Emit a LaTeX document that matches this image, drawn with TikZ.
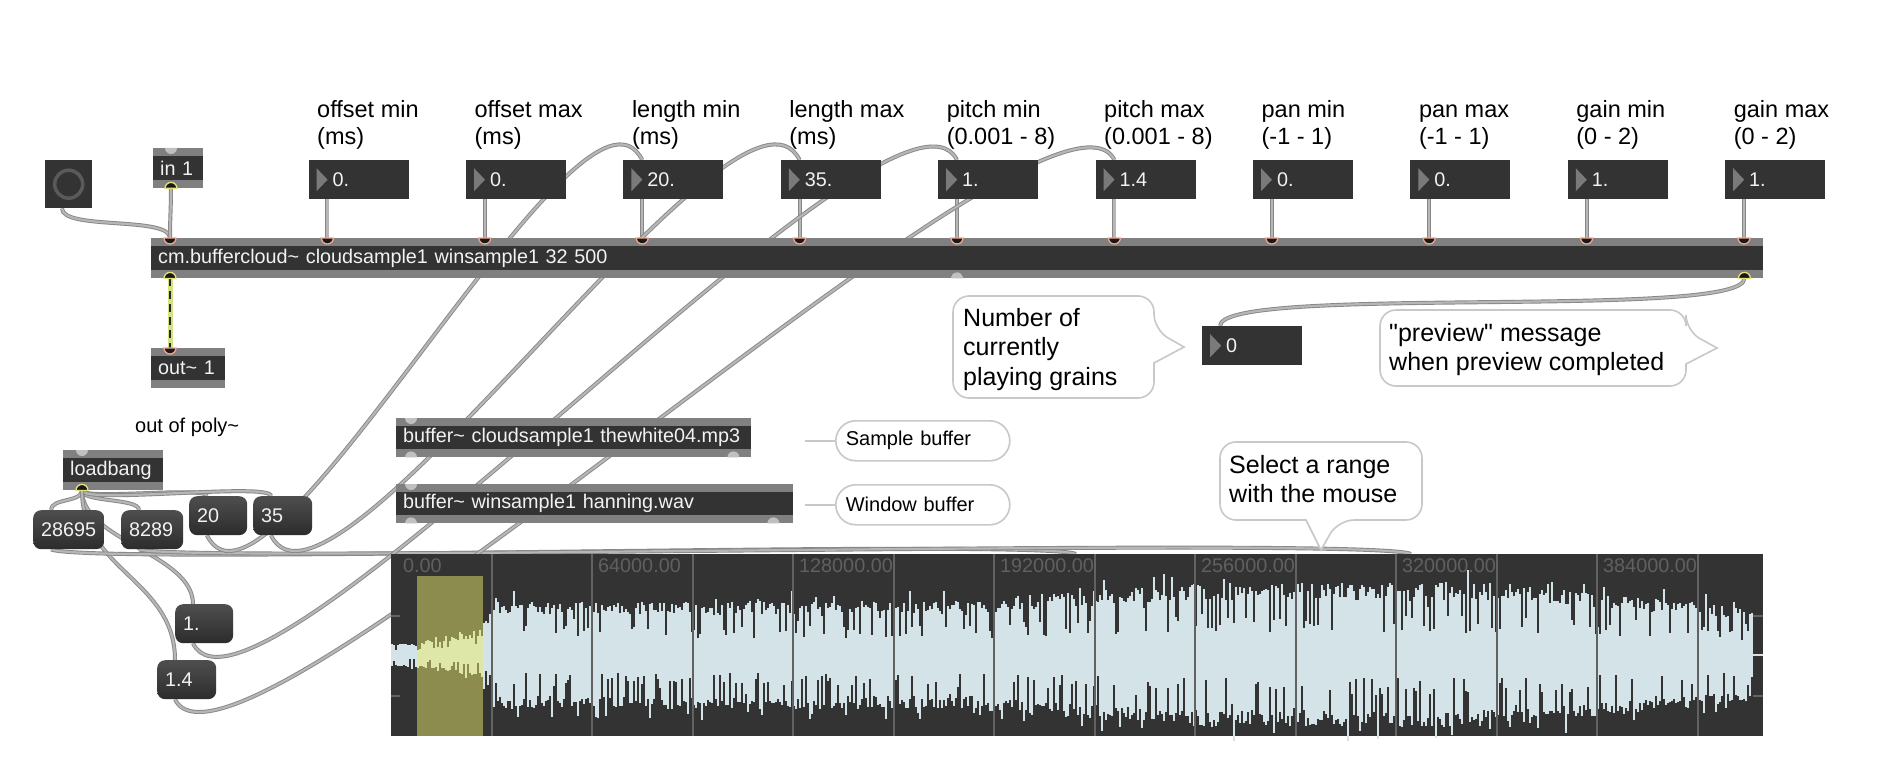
\documentclass[tikz,border=0pt]{standalone}
\usepackage{fontspec}
\setmainfont{Liberation Sans}
\usepackage{tikz}

\definecolor{boxbody}{RGB}{51,51,51}
\definecolor{objstrip}{RGB}{128,128,128}
\definecolor{boxtext}{RGB}{242,242,242}
\definecolor{numtri}{RGB}{122,122,122}
\definecolor{msgtop}{RGB}{78,78,78}
\definecolor{msgbot}{RGB}{44,44,44}
\definecolor{cablerim}{RGB}{135,135,135}
\definecolor{cablefill}{RGB}{182,182,182}
\definecolor{inring}{RGB}{242,165,145}
\definecolor{outring}{RGB}{228,226,120}
\definecolor{dotgray}{RGB}{192,192,192}
\definecolor{sigyellow}{RGB}{210,228,128}
\definecolor{bubblerim}{RGB}{200,200,200}
\definecolor{togring}{RGB}{90,90,90}
\definecolor{wavebg}{RGB}{51,51,51}
\definecolor{wavefill}{RGB}{211,227,232}
\definecolor{selfill}{RGB}{140,140,78}
\definecolor{selwave}{RGB}{222,230,168}
\definecolor{gridline}{RGB}{98,98,98}
\definecolor{gridtxt}{RGB}{96,96,96}

\newcommand{\boxfont}{\fontsize{19.8pt}{22pt}\selectfont}
\newcommand{\lblfont}{\fontsize{23.5pt}{27pt}\selectfont}
\newcommand{\bubfont}{\fontsize{25pt}{29.5pt}\selectfont}
\newcommand{\smlfont}{\fontsize{20pt}{23pt}\selectfont}
\newcommand{\tildech}{\textasciitilde}

\pgfdeclarelayer{bg}
\pgfdeclarelayer{wires}
\pgfsetlayers{bg,wires,main}

\tikzset{
	maxobj/.style={anchor=north west, inner sep=0pt, minimum width=#1, text width=#1,
		minimum height=40pt, align=left, fill=objstrip, text=boxtext, font=\boxfont,
		execute at begin node={\hspace*{7pt}},
		path picture={\fill[boxbody] ([yshift=-8pt]path picture bounding box.north west)
			rectangle ([yshift=8pt]path picture bounding box.south east);}},
	numbox/.style={anchor=north west, inner sep=0pt, minimum width=100pt, text width=100pt,
		minimum height=39pt, align=left, fill=boxbody, text=boxtext, font=\boxfont,
		execute at begin node={\hspace*{24pt}},
		path picture={\fill[numtri] ([xshift=8pt,yshift=-8pt]path picture bounding box.north west)
			-- ++(0pt,-23pt) -- ++(11pt,11.5pt) -- cycle;}},
	msgbox/.style={anchor=north west, inner sep=0pt, minimum width=#1, text width=#1,
		minimum height=39pt, align=left, rounded corners=8pt, top color=msgtop,
		bottom color=msgbot, text=boxtext, font=\boxfont,
		execute at begin node={\hspace*{8pt}}},
	toggle/.style={anchor=north west, inner sep=0pt, minimum width=47pt,
		minimum height=48pt, fill=boxbody},
	pill/.style={anchor=north west, inner sep=0pt, minimum width=174pt, text width=174pt,
		minimum height=40pt, align=left, rounded corners=20pt, draw=bubblerim,
		line width=1.6pt, fill=white, font=\smlfont,
		execute at begin node={\hspace*{10pt}}},
	bubble/.style={draw=bubblerim, line width=1.6pt, fill=white, rounded corners=16pt},
	bubtxt/.style={anchor=base west, align=left, inner sep=0pt, font=\bubfont},
	toplbl/.style={anchor=base west, align=left, inner sep=0pt, font=\lblfont},
	smltxt/.style={anchor=base west, inner sep=0pt, font=\smlfont},
	cable/.style={draw=cablerim, double=cablefill, double distance=2.2pt, line width=0.9pt},
	sigwire/.style={draw=sigyellow, line width=5pt},
	sigdash/.style={draw=black!85, line width=2.4pt, dash pattern=on 8pt off 5pt},
	inl/.style={fill=black!90, draw=inring, line width=1.3pt},
	outl/.style={fill=black!90, draw=outring, line width=1.3pt},
	freedot/.style={fill=dotgray},
	wavebox/.style={anchor=north west, inner sep=0pt, minimum width=1372pt,
		minimum height=182pt, fill=wavebg},
	wavelbl/.style={anchor=base west, inner sep=0pt, font=\boxfont, text=gridtxt},
}

\begin{document}
\begin{tikzpicture}[x=1pt, y=-1pt]
	\useasboundingbox (0,0) rectangle (1894,770);
	\begin{pgfonlayer}{bg}
		\fill[white] (0,0) rectangle (1894,770);
	\end{pgfonlayer}

	% top row: comments and number boxes
	\foreach \t [count=\i from 0] in {{offset min\\(ms)},{offset max\\(ms)},{length min\\(ms)},{length max\\(ms)},{pitch min\\(0.001 - 8)},{pitch max\\(0.001 - 8)},{pan min\\(-1 - 1)},{pan max\\(-1 - 1)},{gain min\\(0 - 2)},{gain max\\(0 - 2)}}
		\node[toplbl] (lbl\i) at ({317+157.4*\i},145) {\t};
	\foreach \v [count=\i from 0] in {0.,0.,20.,35.,1.,1.4,0.,0.,1.,1.}
		\node[numbox] (nb\i) at ({308.4+157.4*\i},160) {\v};

	\node[toggle] (tog) at (45,160) {};
	\draw[togring, line width=3.5pt] (tog.center) circle (14pt);
	\node[maxobj=50pt] (inone) at (153,148) {in 1};
	\node[maxobj=1612pt] (cloud) at (151,238) {cm.buffercloud\tildech{} cloudsample1 winsample1 32 500};
	\node[maxobj=74pt] (outsig) at (151,348) {out\tildech{} 1};
	\node[smltxt] (polylbl) at (135,432) {out of poly\tildech};

	% loadbang and messages
	\node[maxobj=100pt] (lb) at (63,450) {loadbang};
	\node[msgbox=71pt] (mstart) at (33,510) {28695};
	\node[msgbox=62pt] (mend) at (121,510) {8289};
	\node[msgbox=58pt] (mlenlo) at (189,496) {20};
	\node[msgbox=59pt] (mlenhi) at (253,496) {35};
	\node[msgbox=58pt] (mpitlo) at (175,604) {1.};
	\node[msgbox=59pt] (mpithi) at (157,660) {1.4};

	% buffers
	\node[maxobj=355pt, minimum height=39pt] (bufsmp) at (396,418) {buffer\tildech{} cloudsample1 thewhite04.mp3};
	\node[maxobj=397pt, minimum height=39pt] (bufwin) at (396,484) {buffer\tildech{} winsample1 hanning.wav};
	\node[pill] (smpnote) at (835,420) {Sample buffer};
	\node[pill] (winnote) at (835,484) {Window buffer};
	\draw[bubblerim, line width=1.6pt] ([xshift=-30pt]smpnote.west) -- (smpnote.west);
	\draw[bubblerim, line width=1.6pt] ([xshift=-30pt]winnote.west) -- (winnote.west);

	\node[numbox] (cnt) at (1202,326) {0};

	% bubbles
	\draw[bubble] (1050,296) -- (1154,296) -- (1154,330) [sharp corners] -- (1184,347) -- (1154,363) [rounded corners=16pt] -- (1154,398) -- (953,398) -- (953,296) -- cycle;
	\node[bubtxt] (grainsnote) at (963,385) {Number of\\currently\\playing grains};
	\draw[bubble] (1500,310) -- (1686,310) -- (1686,331) [sharp corners] -- (1717,348) -- (1686,364) [rounded corners=16pt] -- (1686,386) -- (1380,386) -- (1380,310) -- cycle;
	\node[bubtxt] (prevnote) at (1389,370.5) {\textquotedbl preview\textquotedbl{} message\\when preview completed};

	% waveform~
	\node[wavebox] (wave) at (391,554) {};
	\fill[selfill] (417,576) rectangle (483,736);
	\pgfmathsetseed{42}
	\foreach \x in {392,394,...,1752} {
		\pgfmathsetmacro{\env}{\x<417 ? 12 : (\x<484 ? 13+(\x-417)*0.1515 : (\x<492 ? 36 : (\x<1000 ? 54 : (\x<1200 ? 58+(\x-1000)*0.07 : (\x<1500 ? 72 : 72-(\x-1500)*0.0992)))))}
		\pgfmathsetmacro{\up}{\env*(0.88+0.12*rand-0.45*(rnd>0.78)+0.2*(rnd>0.92))}
		\pgfmathsetmacro{\dn}{\env*(0.88+0.12*rand-0.45*(rnd>0.78)+0.2*(rnd>0.92))}
		\pgfmathtruncatemacro{\insel}{(\x>416 && \x<484) ? 1 : 0}
		\ifnum\insel=1 \def\wcol{selwave}\else\def\wcol{wavefill}\fi
		\fill[\wcol] ({\x-1},{655-\up}) rectangle ({\x+1},{655+\dn});
	}
	\foreach \k in {1,...,13}
		\draw[gridline, line width=2pt] ({391+100.5*\k},554) -- ({391+100.5*\k},736);
	\foreach \y in {616,696} {
		\draw[gridline, line width=2pt] (391,\y) -- (400,\y);
		\draw[gridline, line width=2pt] (1753,\y) -- (1763,\y);
	}
	\draw[wavefill, line width=2pt] (1752,655) -- (1763,655);
	\foreach \v [count=\k from 0] in {0.00,64000.00,128000.00,192000.00,256000.00,320000.00,384000.00}
		\node[wavelbl] (tick\k) at ({397+201*\k+6*(\k==0)},572) {\v};

	\draw[bubble] (1320,442) -- (1422,442) -- (1422,520) -- (1338,520) [sharp corners] -- (1321,550) -- (1306,520) [rounded corners=16pt] -- (1220,520) -- (1220,442) -- cycle;
	\node[bubtxt] (selnote) at (1229,502.5) {Select a range\\with the mouse};

	% inlets and outlets
	\foreach \k in {0,...,10}
		\filldraw[inl] ([xshift={19pt+157.4pt*\k}]cloud.north west) ++(-6pt,0pt) arc (180:360:6pt) -- cycle;
	\filldraw[outl] ([xshift=19pt]cloud.south west) ++(-6pt,0pt) arc (180:0:6pt) -- cycle;
	\filldraw[outl] ([xshift=-19pt]cloud.south east) ++(-6pt,0pt) arc (180:0:6pt) -- cycle;
	\fill[freedot] ([xshift=806pt]cloud.south west) ++(-6pt,0pt) arc (180:0:6pt) -- cycle;
	\fill[freedot] ([xshift=18pt]inone.north west) ++(-6pt,0pt) arc (180:360:6pt) -- cycle;
	\filldraw[outl] ([xshift=18pt]inone.south west) ++(-6pt,0pt) arc (180:0:6pt) -- cycle;
	\filldraw[inl] ([xshift=19pt]outsig.north west) ++(-6pt,0pt) arc (180:360:6pt) -- cycle;
	\fill[freedot] ([xshift=19pt]lb.north west) ++(-6pt,0pt) arc (180:360:6pt) -- cycle;
	\filldraw[outl] ([xshift=19pt]lb.south west) ++(-6pt,0pt) arc (180:0:6pt) -- cycle;
	\fill[freedot] ([xshift=15pt]bufsmp.north west) ++(-6pt,0pt) arc (180:360:6pt) -- cycle;
	\fill[freedot] ([xshift=15pt]bufsmp.south west) ++(-6pt,0pt) arc (180:0:6pt) -- cycle;
	\fill[freedot] ([xshift=-18pt]bufsmp.south east) ++(-6pt,0pt) arc (180:0:6pt) -- cycle;
	\fill[freedot] ([xshift=15pt]bufwin.north west) ++(-6pt,0pt) arc (180:360:6pt) -- cycle;
	\fill[freedot] ([xshift=15pt]bufwin.south west) ++(-6pt,0pt) arc (180:0:6pt) -- cycle;
	\fill[freedot] ([xshift=-20pt]bufwin.south east) ++(-6pt,0pt) arc (180:0:6pt) -- cycle;

	% patch cords
	\begin{pgfonlayer}{wires}
		\draw[cable] ([xshift=17pt]tog.south west) .. controls +(0,22) and +(0,-22) .. ([xshift=19pt]cloud.north west);
		\draw[cable] ([xshift=18pt]inone.south west) .. controls +(0,20) and +(0,-20) .. ([xshift=19pt]cloud.north west);
		\foreach \i in {0,...,9}
			\draw[cable] ([xshift=19pt]nb\i.south west) -- ([xshift=19pt]nb\i.south west |- cloud.north);
		\draw[cable] ([xshift=-19pt]cloud.south east) .. controls +(0,42) and +(0,-42) .. ([xshift=18pt]cnt.north west);
		\draw[sigwire] ([xshift=19pt]cloud.south west) -- ([xshift=19pt]outsig.north west);
		\draw[sigdash] ([xshift=19pt]cloud.south west) -- ([xshift=19pt]outsig.north west);

		\foreach \m/\c in {mstart/12, mend/12, mlenlo/10, mlenhi/14}
			\draw[cable] ([xshift=19pt]lb.south west) .. controls +(0,\c) and +(0,-\c) .. ([xshift=18pt]\m.north west);
		\draw[cable] ([xshift=19pt]lb.south west) .. controls +(0,50) and +(0,-50) .. ([xshift=18pt]mpitlo.north west);
		\draw[cable] ([xshift=19pt]lb.south west) .. controls +(0,80) and +(0,-80) .. ([xshift=18pt]mpithi.north west);

		\draw[cable] ([xshift=18pt]mstart.south west) .. controls +(40,16) and +(-40,-16) .. ([xshift=685pt]wave.north west);
		\draw[cable] ([xshift=18pt]mend.south west) .. controls +(40,14) and +(-40,-18) .. ([xshift=1020pt]wave.north west);
		\foreach \m/\n in {mlenlo/2, mlenhi/3, mpitlo/4, mpithi/5}
			\draw[cable] ([xshift=18pt]\m.south west) .. controls +(60,120) and +(-60,-120) .. ([xshift=19pt]nb\n.north west);
	\end{pgfonlayer}
\end{tikzpicture}
\end{document}
